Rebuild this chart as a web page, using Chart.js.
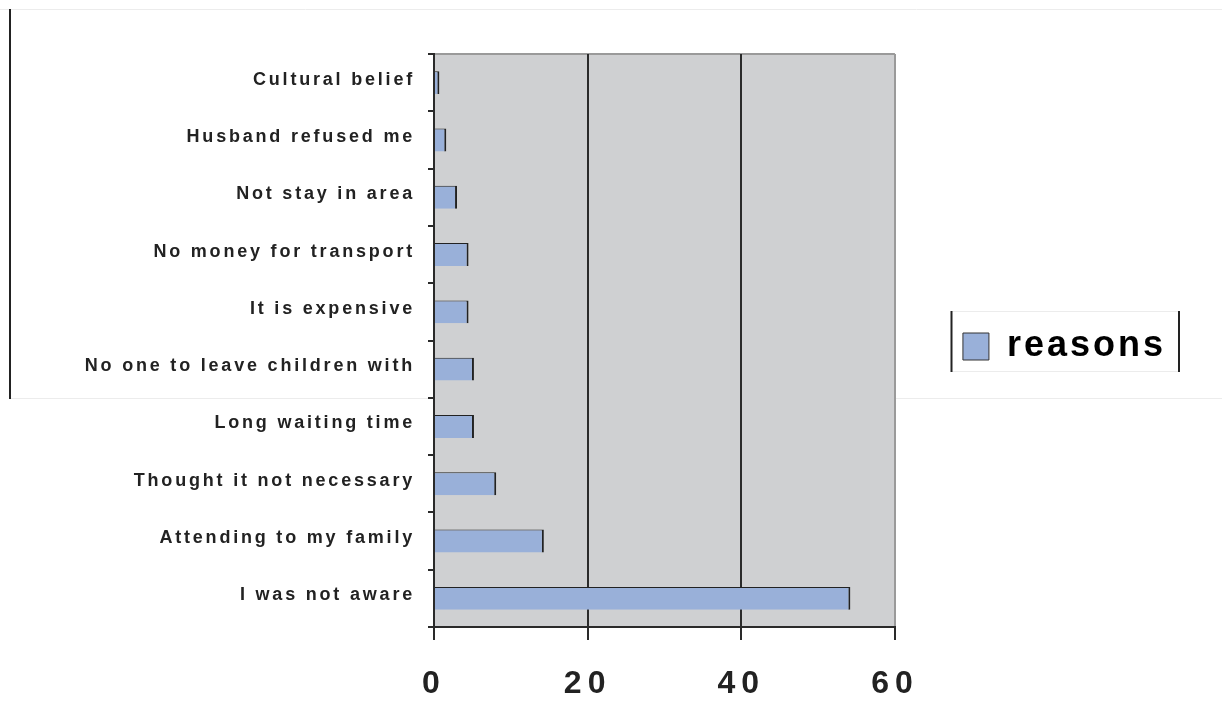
<!DOCTYPE html>
<html>
<head>
<meta charset="utf-8">
<script src="https://cdn.jsdelivr.net/npm/chart.js@4.4.1/dist/chart.umd.min.js"></script>
<style>
  html, body { margin: 0; padding: 0; background: #fff; }
  #wrap { width: 1222px; height: 702px; }
</style>
</head>
<body>
<div id="wrap"><canvas id="reasons-graph" width="1222" height="702"></canvas></div>
<script>
// reasons for not attending, percent
var reasons = [
  'Cultural belief',
  'Husband refused me',
  'Not stay in area',
  'No money for transport',
  'It is expensive',
  'No one to leave children with',
  'Long waiting time',
  'Thought it not necessary',
  'Attending to my family',
  'I was not aware'
];
var percents = [0.7, 1.6, 3.0, 4.5, 4.5, 5.2, 5.2, 8.1, 14.3, 54.2];
var xTicks = [0, 20, 40, 60];

function patchSpacing(obj, name, spacing) {
  if (!obj || obj['_sp_' + name]) return;
  var orig = obj[name];
  obj[name] = function() {
    var ctx = this.ctx;
    ctx.save();
    ctx.letterSpacing = spacing;
    var r = orig.apply(this, arguments);
    ctx.restore();
    return r;
  };
  obj['_sp_' + name] = true;
}

// page frame lines, plot background, legend frame
var framePlugin = {
  id: 'frame',
  beforeLayout: function(chart) {
    patchSpacing(chart.legend, 'fit', '3px');
  },
  beforeDraw: function(chart) {
    var ctx = chart.ctx;
    var a = chart.chartArea;
    ctx.save();
    ctx.strokeStyle = '#ececec';
    ctx.lineWidth = 1;
    ctx.beginPath();
    ctx.moveTo(0, 9.5); ctx.lineTo(1222, 9.5);
    ctx.moveTo(10, 398.5); ctx.lineTo(1222, 398.5);
    ctx.stroke();
    ctx.strokeStyle = '#222';
    ctx.lineWidth = 2;
    ctx.beginPath();
    ctx.moveTo(10, 9); ctx.lineTo(10, 399);
    ctx.stroke();

    ctx.fillStyle = '#cfd0d2';
    ctx.fillRect(a.left, a.top, a.right - a.left, a.bottom - a.top);
    ctx.strokeStyle = '#9a9a9a';
    ctx.lineWidth = 2;
    ctx.beginPath();
    ctx.moveTo(a.left, a.top); ctx.lineTo(a.right, a.top);
    ctx.stroke();

    // legend frame
    ctx.strokeStyle = '#ececec';
    ctx.lineWidth = 1;
    ctx.beginPath();
    ctx.moveTo(951, 311.5); ctx.lineTo(1179, 311.5);
    ctx.moveTo(951, 371.5); ctx.lineTo(1179, 371.5);
    ctx.stroke();
    ctx.strokeStyle = '#222';
    ctx.lineWidth = 2;
    ctx.beginPath();
    ctx.moveTo(951.5, 311); ctx.lineTo(951.5, 372);
    ctx.moveTo(1179, 311); ctx.lineTo(1179, 372);
    ctx.stroke();
    ctx.restore();

    // the x labels sit below the short x box, so no clipping there
    chart.scales.x._computeLabelArea = function() { return undefined; };

    // letter spacing for the labels, like the original
    patchSpacing(chart.scales.y, 'drawLabels', '2.8px');
    patchSpacing(chart.scales.x, 'drawLabels', '6px');
    patchSpacing(chart.legend, 'draw', '3px');
  }
};

var ctx = document.getElementById('reasons-graph').getContext('2d');
var reasonsChart = new Chart(ctx, {
  type: 'bar',
  data: {
    labels: reasons,
    datasets: [{
      label: 'reasons',
      data: percents,
      backgroundColor: '#99b0d9',
      borderColor: '#222',
      borderWidth: {top: 1, right: 2, bottom: 0, left: 0},
      borderSkipped: false,
      barPercentage: 0.8,
      categoryPercentage: 0.5
    }]
  },
  options: {
    indexAxis: 'y',
    responsive: false,
    animation: false,
    devicePixelRatio: 1,
    layout: {padding: {top: 54, right: 46, bottom: 63, left: 0}},
    plugins: {
      tooltip: {enabled: false},
      legend: {
        position: 'right',
        align: 'center',
        labels: {
          color: '#222',
          font: {family: 'Liberation Sans, Arial, sans-serif', size: 36, weight: 'bold'},
          boxWidth: 26,
          boxHeight: 27,
          padding: 68,
          generateLabels: function(chart) {
            return [{
              text: 'reasons',
              fillStyle: '#99b0d9',
              strokeStyle: '#333',
              lineWidth: 1,
              datasetIndex: 0,
              hidden: false
            }];
          }
        }
      }
    },
    scales: {
      x: {
        min: 0,
        max: 60,
        afterBuildTicks: function(scale) {
          scale.ticks = xTicks.map(function(v) { return {value: v}; });
        },
        afterFit: function(scale) { scale.height = 12; },
        grid: {
          color: function(c) { return c.tick && c.tick.value === 60 ? '#9a9a9a' : '#2a2a2a'; },
          lineWidth: 2,
          tickLength: 13,
          tickColor: '#2a2a2a'
        },
        border: {color: '#2a2a2a', width: 2},
        ticks: {
          color: '#222',
          padding: 25,
          font: {family: 'Liberation Sans, Arial, sans-serif', size: 32, weight: 'bold'}
        }
      },
      y: {
        afterFit: function(scale) { scale.width = 434; },
        grid: {
          drawOnChartArea: false,
          tickLength: 6,
          tickColor: '#2a2a2a',
          lineWidth: 2,
          offset: true
        },
        border: {color: '#2a2a2a', width: 2},
        ticks: {
          color: '#222',
          padding: 13,
          labelOffset: -3,
          font: {family: 'Liberation Sans, Arial, sans-serif', size: 18, weight: 'bold'}
        }
      }
    }
  },
  plugins: [framePlugin]
});
</script>
</body>
</html>
